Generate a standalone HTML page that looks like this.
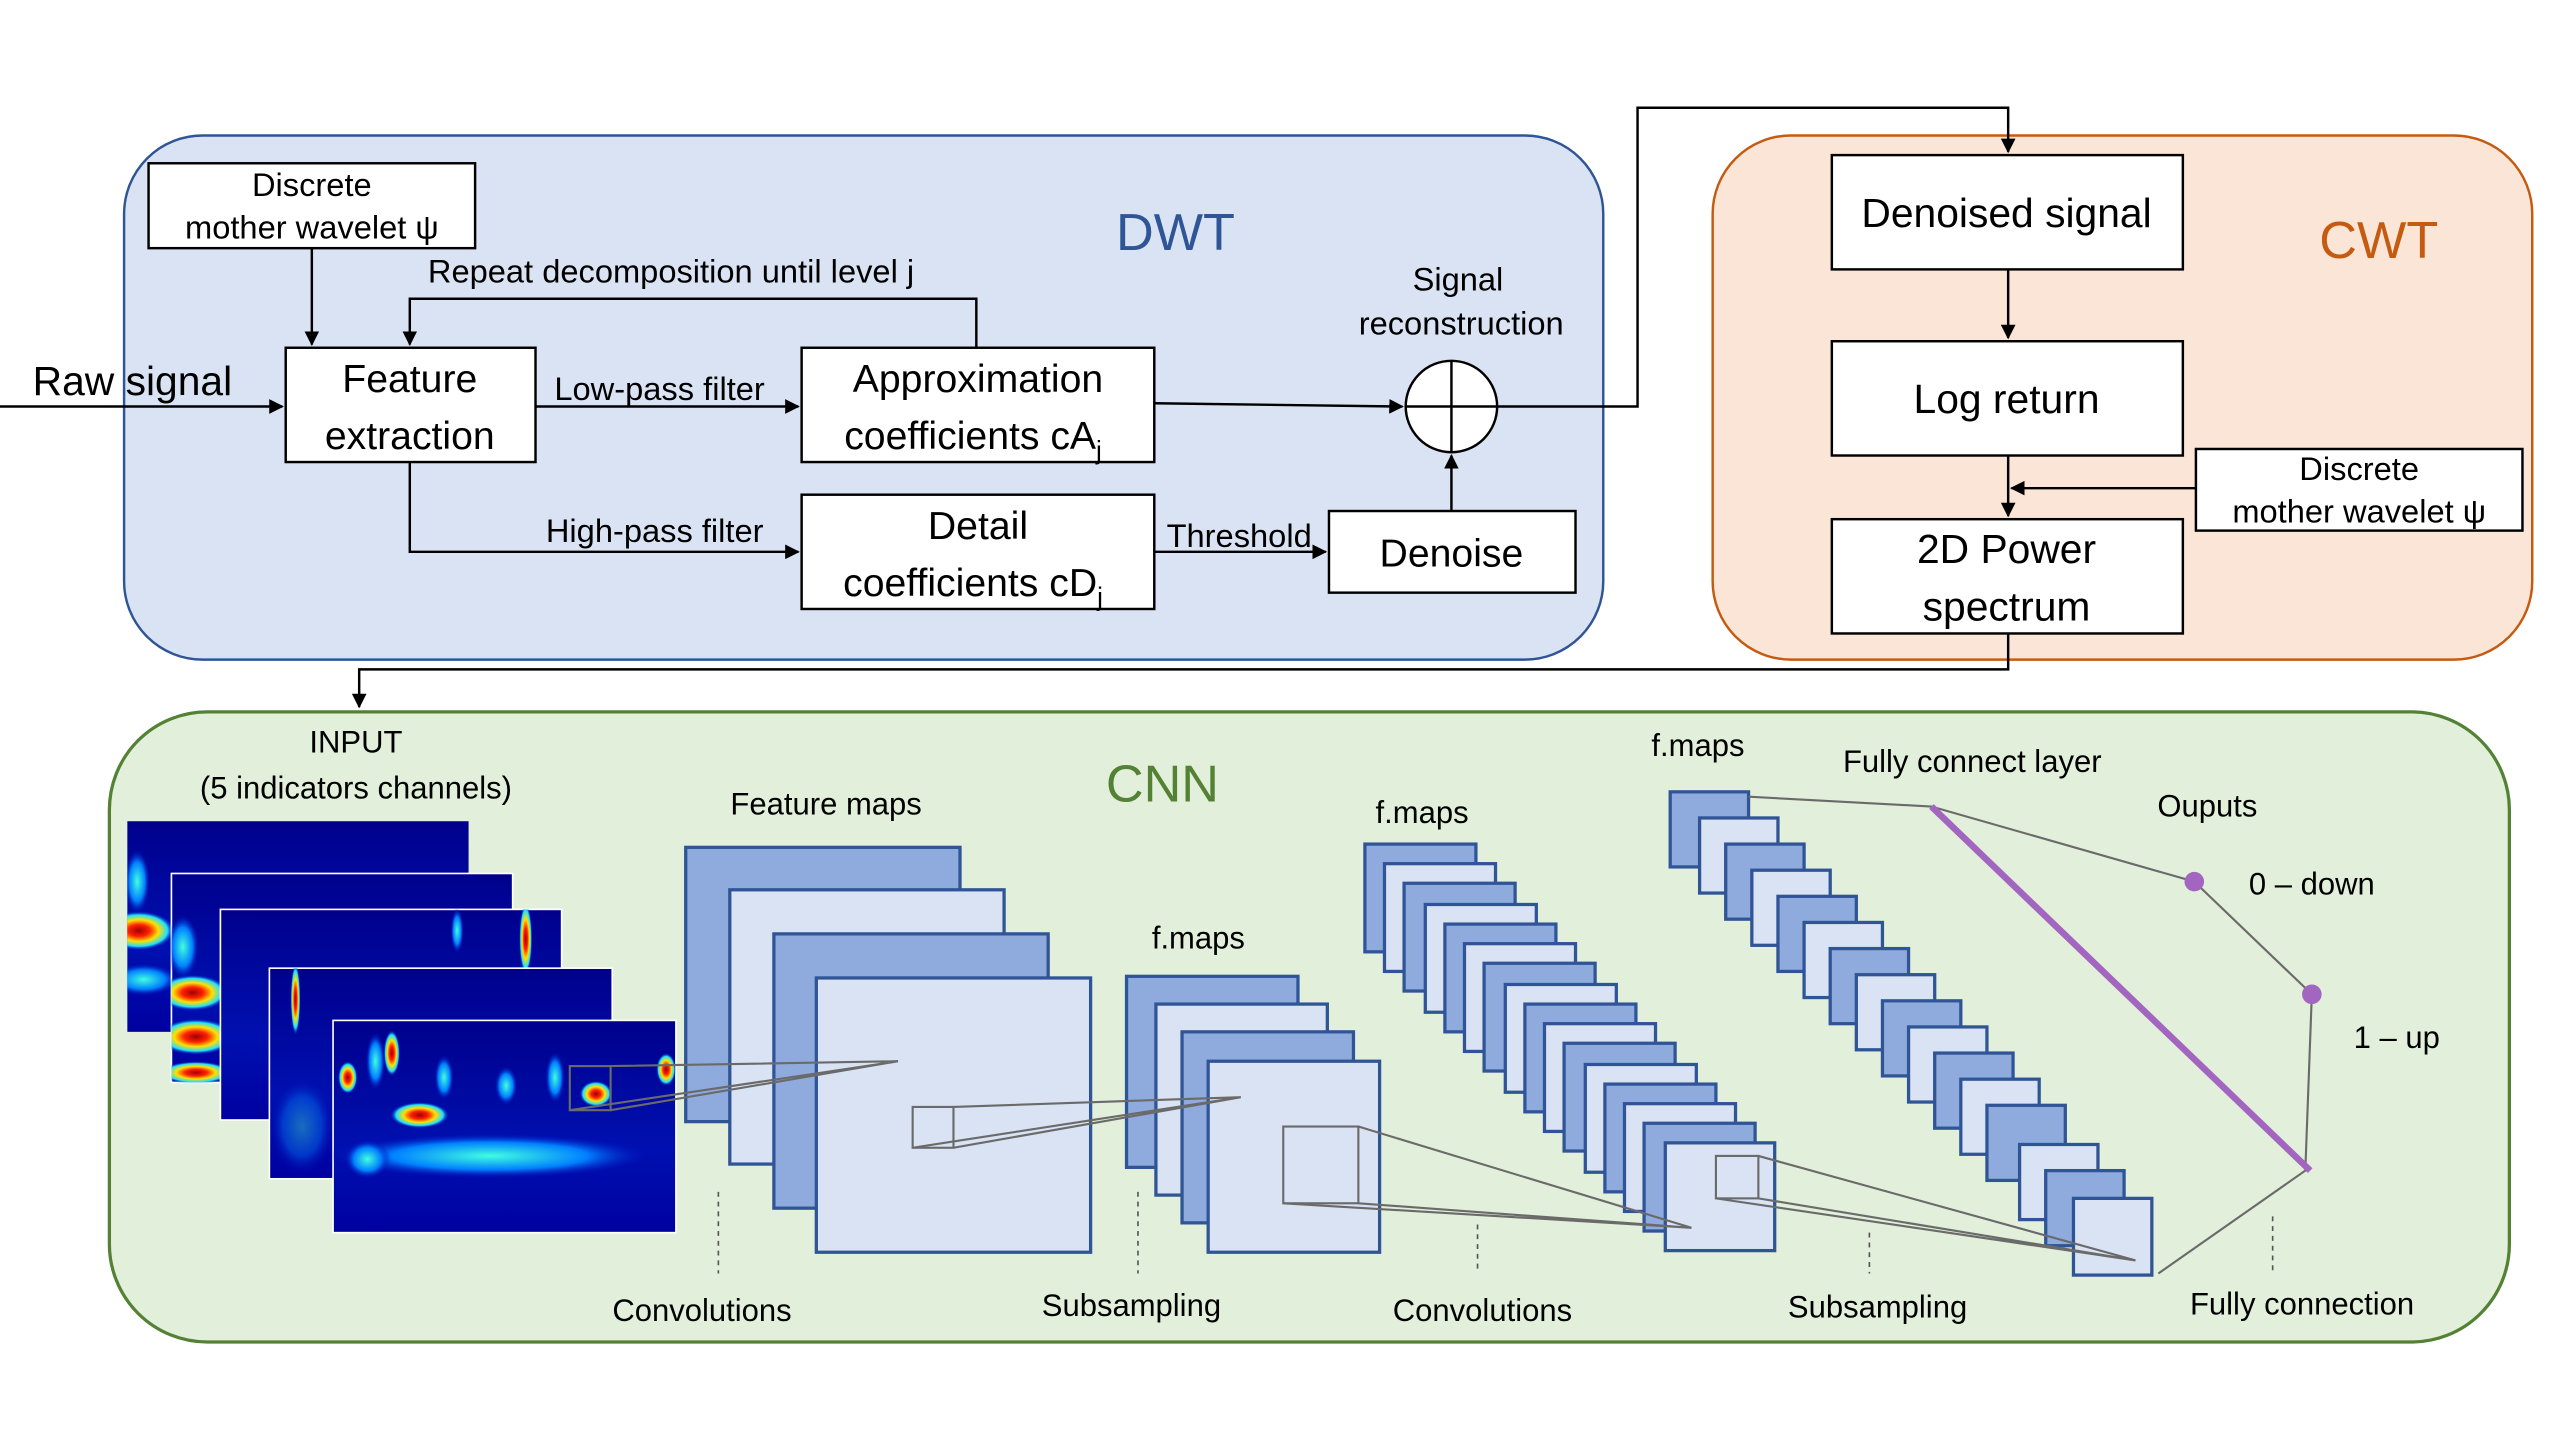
<!DOCTYPE html>
<html><head><meta charset="utf-8"><style>html,body{margin:0;padding:0;background:#fff}svg{display:block}</style></head>
<body>
<svg width="2560" height="1440" viewBox="0 0 1568 882" xmlns="http://www.w3.org/2000/svg" font-family="Liberation Sans, DejaVu Sans, sans-serif">
<defs>
<marker id="a" viewBox="0 0 10 10" refX="9" refY="5" markerWidth="6" markerHeight="6" orient="auto"><path d="M0,0L10,5L0,10z" fill="#000"/></marker>
<radialGradient id="hot"><stop offset="0" stop-color="#a00000"/><stop offset="0.3" stop-color="#ff2000"/><stop offset="0.55" stop-color="#ffe000"/><stop offset="0.8" stop-color="#20e0ff"/><stop offset="1" stop-color="#0010c0" stop-opacity="0"/></radialGradient>
<radialGradient id="cy"><stop offset="0" stop-color="#40ffe0"/><stop offset="0.6" stop-color="#0080ff"/><stop offset="1" stop-color="#0000b0" stop-opacity="0"/></radialGradient>
<linearGradient id="bg" x1="0" y1="0" x2="0" y2="1"><stop offset="0" stop-color="#00008c"/><stop offset="0.6" stop-color="#0010b0"/><stop offset="1" stop-color="#0000a0"/></linearGradient>
<clipPath id="c1"><rect x="78" y="503" width="209" height="129"/></clipPath>
<clipPath id="c2"><rect x="105" y="535" width="209" height="128"/></clipPath>
<clipPath id="c3"><rect x="135" y="557" width="209" height="129"/></clipPath>
<clipPath id="c4"><rect x="165" y="593" width="210" height="129"/></clipPath>
<clipPath id="c5"><rect x="204" y="625" width="210" height="130"/></clipPath>
</defs>
<rect x="76" y="83" width="906" height="321" rx="48" fill="#dae3f3" stroke="#2f5597" stroke-width="1.5"/>
<text x="720" y="153" font-size="32" fill="#2f5597" text-anchor="middle">DWT</text>
<rect x="1049" y="83" width="502" height="321" rx="48" fill="#fbe5d6" stroke="#c55a11" stroke-width="1.5"/>
<text x="1457" y="158" font-size="32" fill="#c55a11" text-anchor="middle">CWT</text>
<rect x="67" y="436" width="1470" height="386" rx="60" fill="#e2efda" stroke="#548235" stroke-width="2"/>
<text x="712" y="491" font-size="32" fill="#548235" text-anchor="middle">CNN</text>

<g font-size="20" fill="#000">
<rect x="91" y="100" width="200" height="52" fill="#fff" stroke="#000" stroke-width="1.5"/>
<text x="191" y="120" text-anchor="middle">Discrete</text>
<text x="191" y="146" text-anchor="middle">mother wavelet ψ</text>
<rect x="175" y="213" width="153" height="70" fill="#fff" stroke="#000" stroke-width="1.5"/>
<text x="251" y="240" text-anchor="middle" font-size="24">Feature</text>
<text x="251" y="275" text-anchor="middle" font-size="24">extraction</text>
<rect x="491" y="213" width="216" height="70" fill="#fff" stroke="#000" stroke-width="1.5"/>
<text x="599" y="240" text-anchor="middle" font-size="24">Approximation</text>
<text x="596" y="275" text-anchor="middle" font-size="24">coefficients cA<tspan font-size="16" dy="6">j</tspan></text>
<rect x="491" y="303" width="216" height="70" fill="#fff" stroke="#000" stroke-width="1.5"/>
<text x="599" y="330" text-anchor="middle" font-size="24">Detail</text>
<text x="596" y="365" text-anchor="middle" font-size="24">coefficients cD<tspan font-size="16" dy="6">j</tspan></text>
<rect x="814" y="313" width="151" height="50" fill="#fff" stroke="#000" stroke-width="1.5"/>
<text x="889" y="347" text-anchor="middle" font-size="24">Denoise</text>
<circle cx="889" cy="249" r="28" fill="#fff" stroke="#000" stroke-width="1.5"/>
<line x1="861" y1="249" x2="917" y2="249" stroke="#000" stroke-width="1.5"/>
<line x1="889" y1="221" x2="889" y2="277" stroke="#000" stroke-width="1.5"/>
<text x="20" y="242" font-size="25">Raw signal</text>
<text x="411" y="173" text-anchor="middle">Repeat decomposition until level j</text>
<text x="404" y="245" text-anchor="middle">Low-pass filter</text>
<text x="401" y="332" text-anchor="middle">High-pass filter</text>
<text x="759" y="335" text-anchor="middle">Threshold</text>
<text x="893" y="178" text-anchor="middle">Signal</text>
<text x="895" y="205" text-anchor="middle">reconstruction</text>

<rect x="1122" y="95" width="215" height="70" fill="#fff" stroke="#000" stroke-width="1.5"/>
<text x="1229" y="139" text-anchor="middle" font-size="25">Denoised signal</text>
<rect x="1122" y="209" width="215" height="70" fill="#fff" stroke="#000" stroke-width="1.5"/>
<text x="1229" y="253" text-anchor="middle" font-size="25">Log return</text>
<rect x="1122" y="318" width="215" height="70" fill="#fff" stroke="#000" stroke-width="1.5"/>
<text x="1229" y="345" text-anchor="middle" font-size="25">2D Power</text>
<text x="1229" y="380" text-anchor="middle" font-size="25">spectrum</text>
<rect x="1345" y="275" width="200" height="50" fill="#fff" stroke="#000" stroke-width="1.5"/>
<text x="1445" y="294" text-anchor="middle">Discrete</text>
<text x="1445" y="320" text-anchor="middle">mother wavelet ψ</text>
</g>

<g stroke="#000" stroke-width="1.5" fill="none">
<path d="M0,249H173" marker-end="url(#a)"/>
<path d="M191,152V211" marker-end="url(#a)"/>
<path d="M598,213V183H251V211" marker-end="url(#a)"/>
<path d="M328,249H489" marker-end="url(#a)"/>
<path d="M251,283V338H489" marker-end="url(#a)"/>
<path d="M707,338H812" marker-end="url(#a)"/>
<path d="M889,313V279" marker-end="url(#a)"/>
<path d="M707,247L859,249" marker-end="url(#a)"/>
<path d="M917,249H1003V66H1230V93" marker-end="url(#a)"/>
<path d="M1230,165V207" marker-end="url(#a)"/>
<path d="M1230,279V316" marker-end="url(#a)"/>
<path d="M1345,299H1232" marker-end="url(#a)"/>
<path d="M1230,388V410H220V433" marker-end="url(#a)"/>
</g>

<g font-size="19" fill="#000">
<text x="218" y="461" text-anchor="middle">INPUT</text>
<text x="218" y="489" text-anchor="middle">(5 indicators  channels)</text>
<text x="506" y="499" text-anchor="middle">Feature maps</text>
<text x="734" y="581" text-anchor="middle">f.maps</text>
<text x="871" y="504" text-anchor="middle">f.maps</text>
<text x="1040" y="463" text-anchor="middle">f.maps</text>
<text x="1208" y="473" text-anchor="middle">Fully connect layer</text>
<text x="1352" y="500" text-anchor="middle">Ouputs</text>
<text x="1416" y="548" text-anchor="middle">0 – down</text>
<text x="1468" y="642" text-anchor="middle">1 – up</text>
<text x="430" y="809" text-anchor="middle">Convolutions</text>
<text x="693" y="806" text-anchor="middle">Subsampling</text>
<text x="908" y="809" text-anchor="middle">Convolutions</text>
<text x="1150" y="807" text-anchor="middle">Subsampling</text>
<text x="1410" y="805" text-anchor="middle">Fully connection</text>
</g>
<g stroke="#555" stroke-width="1" stroke-dasharray="3,3">
<line x1="440" y1="730" x2="440" y2="780"/><line x1="697" y1="730" x2="697" y2="780"/>
<line x1="905" y1="750" x2="905" y2="780"/><line x1="1145" y1="755" x2="1145" y2="780"/>
<line x1="1392" y1="745" x2="1392" y2="780"/>
</g>

<g>
<rect x="78" y="503" width="209" height="129" fill="url(#bg)"/>
<g clip-path="url(#c1)"><ellipse cx="85" cy="570" rx="22" ry="12" fill="url(#hot)"/><ellipse cx="88" cy="600" rx="22" ry="10" fill="url(#cy)"/><ellipse cx="84" cy="540" rx="8" ry="20" fill="url(#cy)"/></g>
<rect x="105" y="535" width="209" height="128" fill="url(#bg)" stroke="#fff"/>
<g clip-path="url(#c2)"><ellipse cx="118" cy="608" rx="22" ry="11" fill="url(#hot)"/><ellipse cx="120" cy="635" rx="24" ry="11" fill="url(#hot)"/><ellipse cx="120" cy="657" rx="22" ry="7" fill="url(#hot)"/><ellipse cx="112" cy="580" rx="10" ry="20" fill="url(#cy)"/></g>
<rect x="135" y="557" width="209" height="129" fill="url(#bg)" stroke="#fff"/>
<g clip-path="url(#c3)"><ellipse cx="322" cy="575" rx="4" ry="22" fill="url(#hot)"/><ellipse cx="280" cy="570" rx="4" ry="14" fill="url(#cy)"/></g>
<rect x="165" y="593" width="210" height="129" fill="url(#bg)" stroke="#fff"/>
<g clip-path="url(#c4)"><ellipse cx="181" cy="612" rx="3" ry="22" fill="url(#hot)"/><ellipse cx="185" cy="690" rx="20" ry="30" fill="url(#cy)" opacity="0.4"/></g>
<rect x="204" y="625" width="210" height="130" fill="url(#bg)" stroke="#fff"/>
<g clip-path="url(#c5)">
<ellipse cx="300" cy="708" rx="100" ry="14" fill="url(#cy)"/>
<ellipse cx="257" cy="683" rx="18" ry="8" fill="url(#hot)"/>
<ellipse cx="213" cy="660" rx="6" ry="10" fill="url(#hot)"/>
<ellipse cx="240" cy="645" rx="5" ry="14" fill="url(#hot)"/>
<ellipse cx="272" cy="660" rx="6" ry="14" fill="url(#cy)"/>
<ellipse cx="310" cy="665" rx="7" ry="12" fill="url(#cy)"/>
<ellipse cx="365" cy="670" rx="10" ry="8" fill="url(#hot)"/>
<ellipse cx="408" cy="655" rx="6" ry="10" fill="url(#hot)"/>
<ellipse cx="225" cy="710" rx="14" ry="12" fill="url(#cy)"/>
<ellipse cx="230" cy="650" rx="6" ry="18" fill="url(#cy)"/>
<ellipse cx="340" cy="660" rx="6" ry="16" fill="url(#cy)"/>
</g>
</g>

<g stroke="#2f5597" stroke-width="2">
<rect x="420" y="519" width="168" height="168" fill="#8faadc"/>
<rect x="447" y="545" width="168" height="168" fill="#dae3f3"/>
<rect x="474" y="572" width="168" height="168" fill="#8faadc"/>
<rect x="500" y="599" width="168" height="168" fill="#dae3f3"/>
<rect x="690" y="598" width="105" height="117" fill="#8faadc"/>
<rect x="708" y="615" width="105" height="117" fill="#dae3f3"/>
<rect x="724" y="632" width="105" height="117" fill="#8faadc"/>
<rect x="740" y="650" width="105" height="117" fill="#dae3f3"/>
</g>
<g stroke="#2f5597" stroke-width="2">
<rect x="836" y="517" width="68" height="66" fill="#8faadc"/>
<rect x="848" y="529" width="68" height="66" fill="#dae3f3"/>
<rect x="860" y="541" width="68" height="66" fill="#8faadc"/>
<rect x="873" y="554" width="68" height="66" fill="#dae3f3"/>
<rect x="885" y="566" width="68" height="66" fill="#8faadc"/>
<rect x="897" y="578" width="68" height="66" fill="#dae3f3"/>
<rect x="909" y="590" width="68" height="66" fill="#8faadc"/>
<rect x="922" y="603" width="68" height="66" fill="#dae3f3"/>
<rect x="934" y="615" width="68" height="66" fill="#8faadc"/>
<rect x="946" y="627" width="68" height="66" fill="#dae3f3"/>
<rect x="958" y="639" width="68" height="66" fill="#8faadc"/>
<rect x="971" y="652" width="68" height="66" fill="#dae3f3"/>
<rect x="983" y="664" width="68" height="66" fill="#8faadc"/>
<rect x="995" y="676" width="68" height="66" fill="#dae3f3"/>
<rect x="1007" y="688" width="68" height="66" fill="#8faadc"/>
<rect x="1020" y="700" width="67" height="66" fill="#dae3f3"/>
</g>
<g stroke="#2f5597" stroke-width="2">
<rect x="1023" y="485" width="48" height="46" fill="#8faadc"/>
<rect x="1041" y="501" width="48" height="46" fill="#dae3f3"/>
<rect x="1057" y="517" width="48" height="46" fill="#8faadc"/>
<rect x="1073" y="533" width="48" height="46" fill="#dae3f3"/>
<rect x="1089" y="549" width="48" height="46" fill="#8faadc"/>
<rect x="1105" y="565" width="48" height="46" fill="#dae3f3"/>
<rect x="1121" y="581" width="48" height="46" fill="#8faadc"/>
<rect x="1137" y="597" width="48" height="46" fill="#dae3f3"/>
<rect x="1153" y="613" width="48" height="46" fill="#8faadc"/>
<rect x="1169" y="629" width="48" height="46" fill="#dae3f3"/>
<rect x="1185" y="645" width="48" height="46" fill="#8faadc"/>
<rect x="1201" y="661" width="48" height="46" fill="#dae3f3"/>
<rect x="1217" y="677" width="48" height="46" fill="#8faadc"/>
<rect x="1237" y="701" width="48" height="46" fill="#dae3f3"/>
<rect x="1253" y="717" width="48" height="46" fill="#8faadc"/>
<rect x="1270" y="734" width="48" height="47" fill="#dae3f3"/>
</g>
<g stroke="#6a6a6a" stroke-width="1.3" fill="none">
<rect x="349" y="653" width="25" height="27"/>
<path d="M349,680L550,650L374,653M374,680L550,650"/>
<rect x="559" y="678" width="25" height="25"/>
<path d="M559,703L760,672L584,678M584,703L760,672"/>
<rect x="786" y="690" width="46" height="47"/>
<path d="M786,737L1036,752L832,690M832,737L1036,752"/>
<rect x="1051" y="708" width="26" height="26"/>
<path d="M1051,734L1308,772L1077,708M1077,734L1308,772"/>
<path d="M1071,488L1183,494L1344,540L1416,609L1412,717L1322,780"/>
</g>
<line x1="1183" y1="494" x2="1415" y2="717" stroke="#a366c0" stroke-width="4"/>
<circle cx="1344" cy="540" r="6" fill="#a366c0"/>
<circle cx="1416" cy="609" r="6" fill="#a366c0"/>
</svg>
</body></html>
